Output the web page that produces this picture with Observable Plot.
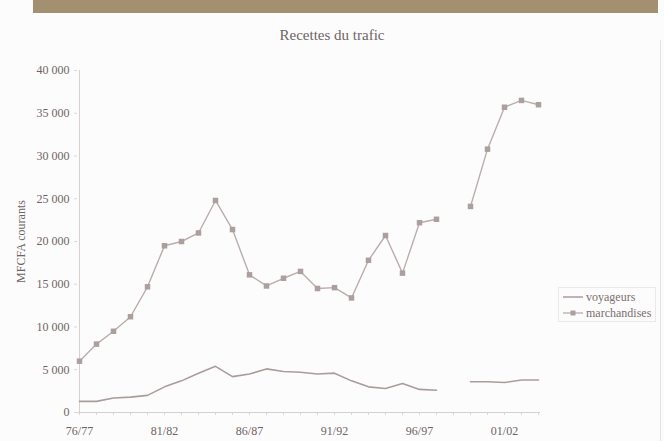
<!DOCTYPE html>
<html>
<head>
<meta charset="utf-8">
<script src="https://cdn.jsdelivr.net/npm/d3@7"></script>
<script src="https://cdn.jsdelivr.net/npm/@observablehq/plot@0.6"></script>
<style>
  html, body { margin: 0; padding: 0; background: #fdfcfc; }
  #wrap { position: relative; width: 664px; height: 441px; overflow: hidden; background: #fdfcfc; font-family: "Liberation Serif", "DejaVu Serif", serif; }
  #band { position: absolute; left: 33px; top: 0; width: 625px; height: 13px; background: #a39071; }
  #title { position: absolute; left: 0; width: 664px; top: 27px; text-align: center; font-size: 15px; color: #6e6464; }
  #chart { position: absolute; left: 0; top: 0; }
  #legend { position: absolute; left: 558px; top: 287px; width: 96px; height: 33px; border: 1px solid #ece8e8; font-size: 12px; color: #7a6f6e; }
  .item { position: absolute; left: 4px; height: 14px; display: flex; align-items: center; }
  .item span { margin-left: 3px; }
  #edge { position: absolute; left: 660px; top: 40px; width: 1px; height: 401px; background: #e6e2e2; }
</style>
</head>
<body>
<div id="wrap">
  <div id="chart"></div>
  <div id="band"></div>
  <div id="title">Recettes du trafic</div>
  <div id="legend">
    <div class="item" style="top:2px"><svg width="20" height="10"><line x1="0" x2="20" y1="5" y2="5" stroke="#a99d9b" stroke-width="1.5"/></svg><span>voyageurs</span></div>
    <div class="item" style="top:18px"><svg width="20" height="10"><line x1="0" x2="20" y1="5" y2="5" stroke="#b9aeac" stroke-width="1.3"/><rect x="7.5" y="2.5" width="5" height="5" fill="#aca09e"/></svg><span>marchandises</span></div>
  </div>
  <div id="edge"></div>
</div>
<script>
const categories = ["76/77","77/78","78/79","79/80","80/81","81/82","82/83","83/84","84/85","85/86","86/87","87/88","88/89","89/90","90/91","91/92","92/93","93/94","94/95","95/96","96/97","97/98","98/99","99/00","00/01","01/02","02/03","03/04"];
const voyageurs = [1300,1300,1700,1800,2000,3000,3700,4600,5400,4200,4500,5100,4800,4700,4500,4600,3700,3000,2800,3400,2700,2600,null,3600,3600,3500,3800,3800];
const marchandises = [6000,8000,9500,11200,14700,19500,20000,21000,24800,21400,16100,14800,15700,16500,14500,14600,13400,17800,20700,16300,22200,22600,null,24100,30800,35700,36500,36000];
const xLabels = ["76/77","81/82","86/87","91/92","96/97","01/02"];
const yTicks = [0,5000,10000,15000,20000,25000,30000,35000,40000];

const rows = categories.map((c, i) => ({cat: c, voy: voyageurs[i], mar: marchandises[i]}));
const fmt = d => d3.format(",")(d).replace(/,/g, " ");

const chart = Plot.plot({
  width: 664,
  height: 441,
  marginTop: 70,
  marginBottom: 29,
  marginLeft: 77,
  marginRight: 124,
  style: {background: "transparent", fontFamily: "Liberation Serif, DejaVu Serif, serif", fontSize: "12px", color: "#6e6464"},
  x: {type: "point", domain: categories, padding: 0},
  y: {domain: [0, 40000]},
  marks: [
    Plot.axisY({ticks: yTicks, tickSize: 3, tickPadding: 5, tickFormat: fmt, stroke: "#ddd6d6", fill: "#6e6464", label: null}),
    Plot.axisX({ticks: categories, tickSize: 3, tickFormat: () => "", stroke: "#ddd6d6", label: null}),
    Plot.axisX({ticks: xLabels, tickSize: 0, tickPadding: 14, fill: "#6e6464", label: null}),
    Plot.ruleY([0], {stroke: "#d8d0d0"}),
    Plot.ruleX([categories[0]], {stroke: "#d8d0d0"}),
    Plot.text(["MFCFA courants"], {frameAnchor: "left", textAnchor: "middle", dx: -56, rotate: -90, text: d => d, fill: "#6e6464", fontSize: 12}),
    Plot.line(rows, {x: "cat", y: "voy", stroke: "#a99d9b", strokeWidth: 1.6}),
    Plot.line(rows, {x: "cat", y: "mar", stroke: "#b9aeac", strokeWidth: 1.4}),
    Plot.dot(rows.filter(d => d.mar != null), {x: "cat", y: "mar", symbol: "square", r: 3.1, fill: "#aca09e", stroke: "none"})
  ]
});
document.getElementById("chart").appendChild(chart);
</script>
</body>
</html>
